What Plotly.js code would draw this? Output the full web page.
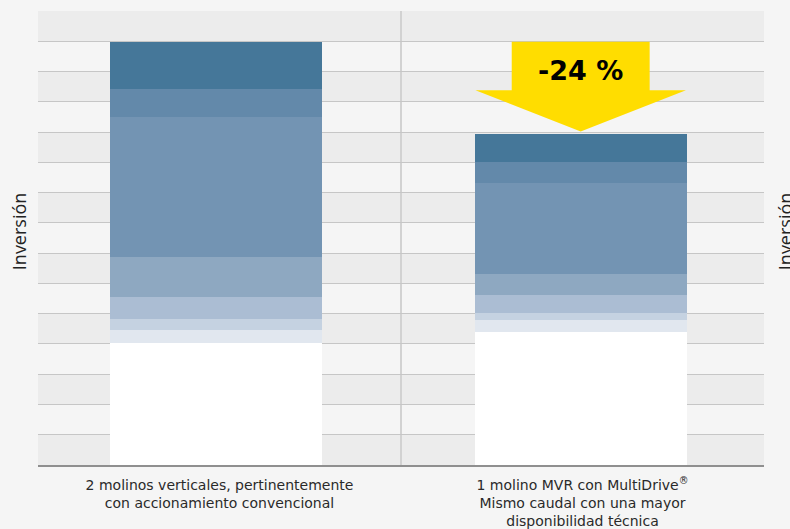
<!DOCTYPE html>
<html>
<head>
<meta charset="utf-8">
<script src="https://cdn.plot.ly/plotly-3.0.1.min.js"></script>
<style>
  html, body { margin: 0; padding: 0; background: #f5f5f5; }
  #chart { width: 790px; height: 529px; }
</style>
</head>
<body>
<div id="chart"></div>
<script>
// ---- data ----
const categories = [
  "2 molinos verticales, pertinentemente<br>con accionamiento convencional",
  "1 molino MVR con MultiDrive<sup>®</sup><br>Mismo caudal con una mayor<br>disponibilidad técnica"
];
const catPositions = [0, 1];
const seriesBase = [4.03, 4.39];
const series1 = [0.42, 0.40];
const series2 = [0.36, 0.23];
const series3 = [0.73, 0.59];
const series4 = [1.32, 0.70];
const series5 = [4.63, 3.00];
const series6 = [0.93, 0.70];
const series7 = [1.56, 0.93];
const reductionLabel = "-24 %";
const axisTitle = "Inversión";

(function () {
const allSeries = [seriesBase, series1, series2, series3, series4, series5, series6, series7];
const colors = ["#ffffff", "#e1e7ef", "#c5d2e1", "#abbdd3", "#8ea8c1", "#7394b3", "#6389aa", "#457799"];

const traces = allSeries.map((vals, i) => ({
  type: "bar",
  x: catPositions,
  y: vals,
  width: 0.585,
  offset: [-0.302, -0.297],
  marker: { color: colors[i], line: { width: 0 } },
  hoverinfo: "skip",
  showlegend: false
}));

const totals = catPositions.map((_, j) => allSeries.reduce((s, arr) => s + arr[j], 0));
const yMax = 15;

const shapes = [];
for (let k = 0; k < yMax; k += 2) {
  shapes.push({
    type: "rect", xref: "paper", yref: "y", x0: 0, x1: 1, y0: k, y1: k + 1,
    fillcolor: "#ececec", line: { width: 0 }, layer: "below"
  });
}
shapes.push({
  type: "line", xref: "x", yref: "paper", x0: 0.5, x1: 0.5, y0: 0, y1: 1,
  line: { color: "#d2d2d2", width: 2 }, layer: "below"
});
const tipY = totals[1] + 0.08;
const shoulderY = tipY + 1.36;
const topY = totals[0];
const cx = catPositions[1] - 0.005;
const rw = 0.19, hw = 0.29;
shapes.push({
  type: "path", xref: "x", yref: "y",
  path: `M ${cx - rw} ${topY} L ${cx + rw} ${topY} L ${cx + rw} ${shoulderY} L ${cx + hw} ${shoulderY} L ${cx} ${tipY} L ${cx - hw} ${shoulderY} L ${cx - rw} ${shoulderY} Z`,
  fillcolor: "#ffdd00", line: { width: 0 }, layer: "above"
});

const annotations = [
  {
    x: cx, y: (topY + shoulderY) / 2 - 0.15, xref: "x", yref: "y",
    text: "<b>" + reductionLabel + "</b>", showarrow: false,
    font: { family: "DejaVu Sans", size: 27, color: "#000000" },
    xanchor: "center", yanchor: "middle"
  },
  {
    x: -19 / 726, y: 0.515, xref: "paper", yref: "paper",
    text: axisTitle, textangle: -90, showarrow: false,
    font: { family: "Open Sans", size: 18, color: "#222222" },
    xanchor: "center", yanchor: "middle"
  },
  {
    x: 1 + 21 / 726, y: 0.515, xref: "paper", yref: "paper",
    text: axisTitle, textangle: -90, showarrow: false,
    font: { family: "Open Sans", size: 18, color: "#222222" },
    xanchor: "center", yanchor: "middle"
  }
];

const layout = {
  width: 790, height: 529,
  margin: { l: 38, r: 26, t: 11, b: 64, pad: 0 },
  paper_bgcolor: "#f5f5f5",
  plot_bgcolor: "#f5f5f5",
  barmode: "stack",
  bargap: 0,
  showlegend: false,
  xaxis: {
    range: [-0.5, 1.5],
    tickvals: catPositions,
    ticktext: categories,
    showgrid: false, zeroline: false,
    showline: true, linecolor: "#8f8f8f", linewidth: 2,
    ticks: "", ticklen: 0,
    ticklabelstandoff: 6,
    tickfont: { family: "DejaVu Sans", size: 14, color: "#2a2a2a" },
    fixedrange: true
  },
  yaxis: {
    range: [0, yMax],
    dtick: 1, tick0: 0,
    showgrid: true, gridcolor: "#c6c6c6", gridwidth: 1,
    showticklabels: false, zeroline: false, ticks: "",
    fixedrange: true
  },
  shapes: shapes,
  annotations: annotations
};

Plotly.newPlot("chart", traces, layout, { displayModeBar: false, staticPlot: true });
})();
</script>
</body>
</html>
